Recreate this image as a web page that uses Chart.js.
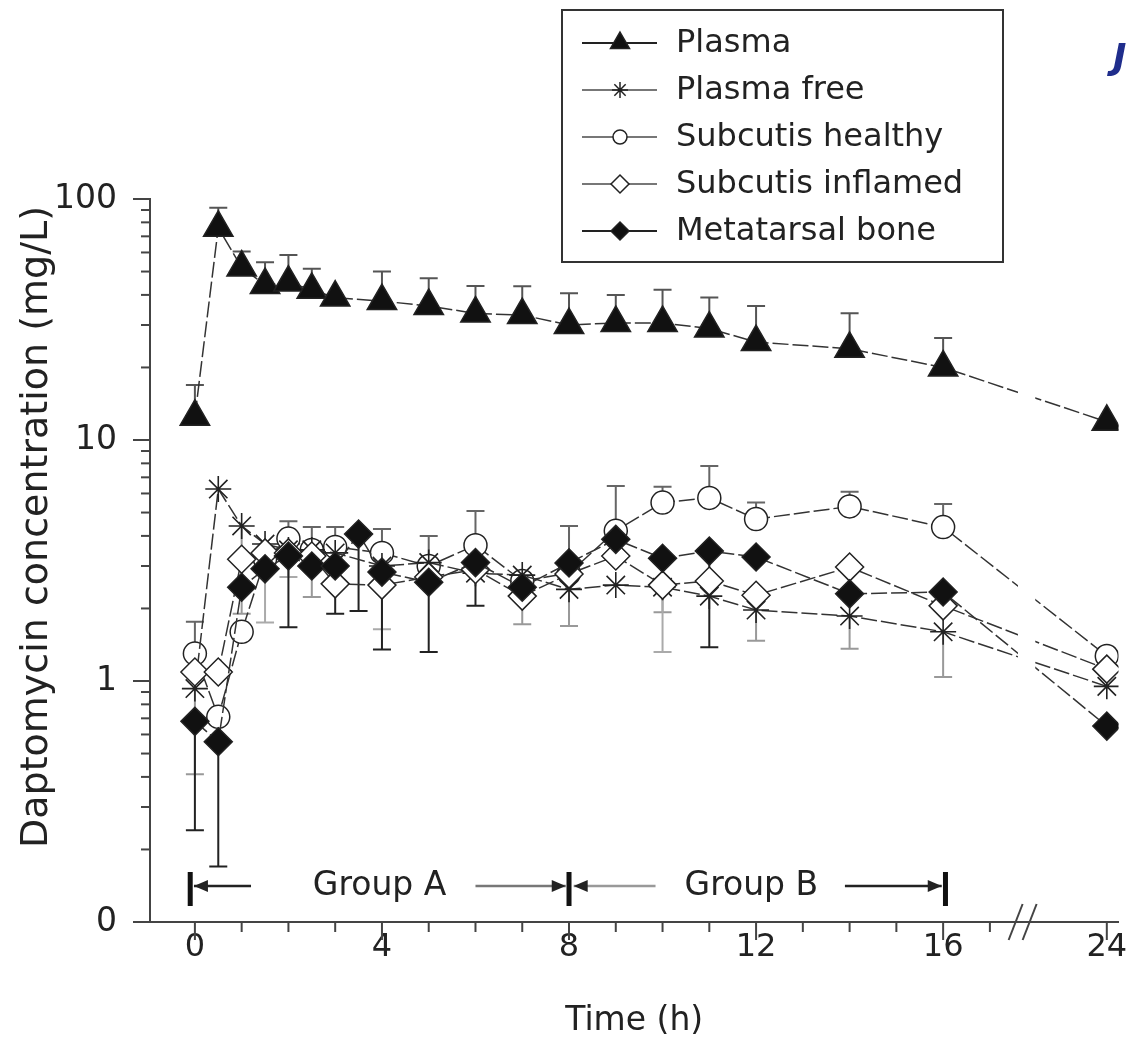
<!DOCTYPE html>
<html>
<head>
<meta charset="utf-8">
<script src="https://cdn.jsdelivr.net/npm/chart.js@4.4.0/dist/chart.umd.min.js"></script>
<style>
  html, body { margin: 0; padding: 0; background: #fff; }
  #wrap { width: 1137px; height: 1043px; position: relative; }
</style>
</head>
<body>
<div id="wrap"><canvas id="chart"></canvas></div>
<script>
// sampling times (h); 24 h sits after an axis break
const times = [0, 0.5, 1, 1.5, 2, 2.5, 3, 3.5, 4, 5, 6, 7, 8, 9, 10, 11, 12, 14, 16, 24];

const plasma     = [12.5, 76, 52, 44, 45, 42, 39, null, 37.7, 36, 33.5, 33, 30, 30.6, 30.6, 29, 25.5, 23.9, 20, 11.9];
const plasmaHi   = [16.9, 92, 60.6, 54.6, 58.5, 51.4, null, null, 50, 46.9, 43.5, 43.4, 40.6, 40, 42, 39, 36, 33.6, 26.5, null];
const plasmaFree = [0.93, 6.26, 4.4, 3.7, 3.5, 3.5, 3.4, null, 3.0, 3.1, 2.8, 2.75, 2.4, 2.5, 2.45, 2.25, 1.97, 1.86, 1.6, 0.95];
const freeLo     = [0.41, null, 1.9, null, null, 2.23, null, null, null, null, null, 1.72, 1.69, null, 1.93, null, 1.47, 1.36, 1.04, null];
const healthy    = [1.3, 0.71, 1.6, 3.2, 3.9, 3.5, 3.6, null, 3.4, 3.0, 3.66, 2.6, 2.8, 4.2, 5.5, 5.75, 4.7, 5.3, 4.35, 1.27];
const healthyHi  = [1.76, null, null, null, 4.6, 4.35, 4.35, null, 4.27, 4.0, 5.07, null, 4.4, 6.45, 6.4, 7.8, 5.5, 6.1, 5.43, null];
const inflamed   = [1.09, 1.09, 3.2, 3.4, 3.4, 3.3, 2.53, null, 2.5, 2.7, 2.9, 2.25, 2.78, 3.3, 2.5, 2.6, 2.27, 2.97, 2.05, 1.12];
const inflamedLo = [null, null, null, 1.75, 2.7, null, null, null, 1.64, null, null, null, null, null, 1.32, null, null, null, null, null];
const bone       = [0.68, 0.56, 2.45, 2.92, 3.3, 3.0, 3.0, 4.07, 2.83, 2.57, 3.1, 2.45, 3.09, 3.87, 3.23, 3.46, 3.27, 2.3, 2.34, 0.65];
const boneLo     = [0.24, 0.17, null, null, 1.67, null, 1.9, 1.95, 1.35, 1.32, 2.05, null, null, null, null, 1.38, null, null, null, null];

const xTicks = [0, 4, 8, 12, 16, 19.5];
const xTickLabels = ['0', '4', '8', '12', '16', '24'];
const yTicks = [0.1, 1, 10, 100];
const yTickLabels = ['0', '1', '10', '100'];

const FONT = 'DejaVu Sans';
const INK = '#222';

// 24 h is drawn at 19.5 on the axis because of the break
const axisX = t => (t === 24 ? 19.5 : t);
const pts = arr => times.map((t, i) => ({ x: axisX(t), y: arr[i] }));

function series(label, values, style, radius, fill, order, errHi, errLo, errColor) {
    return {
        label: label,
        data: pts(values),
        pointStyle: style,
        pointRadius: radius,
        pointHoverRadius: radius,
        pointBackgroundColor: fill,
        pointBorderColor: INK,
        pointBorderWidth: style === 'star' ? 1.6 : 1.5,
        borderColor: '#333',
        borderWidth: 1.5,
        borderDash: [16, 4],
        fill: false,
        spanGaps: true,
        order: order,
        errHi: errHi,
        errLo: errLo,
        errColor: errColor
    };
}

function marker(ctx, style, x, y, r, fill) {
    ctx.beginPath();
    if (style === 'triangle') {
        ctx.moveTo(x, y - r);
        ctx.lineTo(x + r * 0.866, y + r / 2);
        ctx.lineTo(x - r * 0.866, y + r / 2);
        ctx.closePath();
    } else if (style === 'circle') {
        ctx.arc(x, y, r, 0, Math.PI * 2);
    } else if (style === 'rectRot') {
        ctx.moveTo(x - r, y);
        ctx.lineTo(x, y - r);
        ctx.lineTo(x + r, y);
        ctx.lineTo(x, y + r);
        ctx.closePath();
    } else if (style === 'star') {
        for (let k = 0; k < 4; k++) {
            const a = k * Math.PI / 4;
            ctx.moveTo(x - Math.cos(a) * r, y - Math.sin(a) * r);
            ctx.lineTo(x + Math.cos(a) * r, y + Math.sin(a) * r);
        }
    }
    if (style !== 'star') {
        ctx.fillStyle = fill;
        ctx.fill();
    }
    ctx.stroke();
}

function arrow(ctx, x1, x2, y, color, headLeft) {
    ctx.strokeStyle = color;
    ctx.lineWidth = 2.5;
    ctx.beginPath();
    ctx.moveTo(x1, y);
    ctx.lineTo(x2, y);
    ctx.stroke();
    const hx = headLeft ? x1 : x2;
    const d = headLeft ? 1 : -1;
    ctx.fillStyle = INK;
    ctx.beginPath();
    ctx.moveTo(hx, y);
    ctx.lineTo(hx + d * 14, y - 6);
    ctx.lineTo(hx + d * 14, y + 6);
    ctx.closePath();
    ctx.fill();
}

const decor = {
    id: 'decor',
    beforeDatasetsDraw(chart) {
        const ctx = chart.ctx;
        const ys = chart.scales.y;
        ctx.save();
        chart.data.datasets.forEach((ds, i) => {
            const meta = chart.getDatasetMeta(i);
            ctx.strokeStyle = ds.errColor;
            ctx.lineWidth = 2;
            [ds.errHi, ds.errLo].forEach(arr => {
                if (!arr) return;
                arr.forEach((v, j) => {
                    if (v == null || ds.data[j].y == null) return;
                    const p = meta.data[j];
                    const y1 = ys.getPixelForValue(v);
                    ctx.beginPath();
                    ctx.moveTo(p.x, p.y);
                    ctx.lineTo(p.x, y1);
                    ctx.moveTo(p.x - 9, y1);
                    ctx.lineTo(p.x + 9, y1);
                    ctx.stroke();
                });
            });
        });
        ctx.restore();
    },
    afterDraw(chart) {
        const ctx = chart.ctx;
        const xs = chart.scales.x;
        const ys = chart.scales.y;
        const area = chart.chartArea;
        ctx.save();

        // gap in the connecting lines at the axis break
        ctx.fillStyle = '#ffffff';
        const g1 = xs.getPixelForValue(17.6), g2 = xs.getPixelForValue(17.97);
        ctx.fillRect(g1, area.top + 20, g2 - g1, area.bottom - area.top - 60);

        ctx.strokeStyle = '#444';
        ctx.lineWidth = 2;

        // x tick marks, one per hour up to 17, plus 24
        for (let t = 0; t <= 17; t++) {
            const px = xs.getPixelForValue(t);
            ctx.beginPath();
            ctx.moveTo(px, area.bottom);
            ctx.lineTo(px, area.bottom + (t % 4 === 0 ? 18 : 10));
            ctx.stroke();
        }
        const p24 = xs.getPixelForValue(19.5);
        ctx.beginPath();
        ctx.moveTo(p24, area.bottom);
        ctx.lineTo(p24, area.bottom + 18);
        ctx.stroke();

        // axis break marks
        const bx = xs.getPixelForValue(17.55);
        [0, 14].forEach(off => {
            ctx.beginPath();
            ctx.moveTo(bx + off - 7, area.bottom + 18);
            ctx.lineTo(bx + off + 7, area.bottom - 18);
            ctx.stroke();
        });

        // log y tick marks
        for (let k = -1; k <= 1; k++) {
            for (let m = 1; m <= 9; m++) {
                const py = ys.getPixelForValue(m * Math.pow(10, k));
                ctx.beginPath();
                ctx.moveTo(area.left, py);
                ctx.lineTo(area.left - (m === 1 ? 17 : 9), py);
                ctx.stroke();
            }
        }
        const p100 = ys.getPixelForValue(100);
        ctx.beginPath();
        ctx.moveTo(area.left, p100);
        ctx.lineTo(area.left - 17, p100);
        ctx.stroke();

        // group A / group B annotation
        const gy = area.bottom - 36;
        ctx.fillStyle = '#111';
        [-0.1, 8, 16.05].forEach(t => {
            ctx.fillRect(xs.getPixelForValue(t) - 2.5, gy - 14, 5, 34);
        });
        arrow(ctx, xs.getPixelForValue(-0.02), xs.getPixelForValue(1.2), gy, '#222', true);
        arrow(ctx, xs.getPixelForValue(6.0), xs.getPixelForValue(7.93), gy, '#777', false);
        arrow(ctx, xs.getPixelForValue(8.1), xs.getPixelForValue(9.85), gy, '#999', true);
        arrow(ctx, xs.getPixelForValue(13.9), xs.getPixelForValue(15.97), gy, '#222', false);
        ctx.fillStyle = INK;
        ctx.font = `33px "${FONT}"`;
        ctx.textAlign = 'center';
        ctx.textBaseline = 'middle';
        ctx.fillText('Group A', xs.getPixelForValue(3.95), gy);
        ctx.fillText('Group B', xs.getPixelForValue(11.9), gy);

        // y axis title
        ctx.save();
        ctx.translate(37, 527);
        ctx.rotate(-Math.PI / 2);
        ctx.font = `38px "${FONT}"`;
        ctx.fillText('Daptomycin concentration (mg/L)', 0, 0);
        ctx.restore();

        // legend box
        ctx.strokeStyle = '#333';
        ctx.lineWidth = 2;
        ctx.strokeRect(562, 10, 441, 252);
        const legendMarks = [
            ['triangle', 11, '#111'],
            ['star', 8, '#fff'],
            ['circle', 7, '#fff'],
            ['rectRot', 9, '#fff'],
            ['rectRot', 9, '#111']
        ];
        chart.data.datasets.forEach((ds, i) => {
            const ly = 43 + i * 47;
            ctx.strokeStyle = i === 0 || i === 4 ? '#222' : '#777';
            ctx.lineWidth = 2;
            ctx.beginPath();
            ctx.moveTo(582, ly);
            ctx.lineTo(657, ly);
            ctx.stroke();
            ctx.strokeStyle = INK;
            ctx.lineWidth = 1.5;
            const m = legendMarks[i];
            marker(ctx, m[0], 620, ly, m[1], m[2]);
            ctx.fillStyle = INK;
            ctx.font = `32px "${FONT}"`;
            ctx.textAlign = 'left';
            ctx.textBaseline = 'middle';
            ctx.fillText(ds.label, 676, ly + 1);
        });

        // journal mark cut at the corner
        ctx.fillStyle = '#1f2d8c';
        ctx.font = `italic bold 36px "${FONT}"`;
        ctx.textAlign = 'left';
        ctx.fillText('J', 1113, 60);
        ctx.restore();
    }
};

const ctx = document.getElementById('chart').getContext('2d');
new Chart(ctx, {
    type: 'line',
    data: {
        datasets: [
            series('Plasma', plasma, 'triangle', 17, '#111', 1, plasmaHi, null, '#555'),
            series('Plasma free', plasmaFree, 'star', 13, '#fff', 3, null, freeLo, '#999'),
            series('Subcutis healthy', healthy, 'circle', 11.5, '#fff', 4, healthyHi, null, '#666'),
            series('Subcutis inflamed', inflamed, 'rectRot', 14, '#fff', 2, null, inflamedLo, '#aaa'),
            series('Metatarsal bone', bone, 'rectRot', 14, '#111', 0, null, boneLo, '#222')
        ]
    },
    options: {
        responsive: true,
        maintainAspectRatio: false,
        animation: false,
        layout: { padding: { top: 199, right: 4, left: 0, bottom: 0 } },
        plugins: {
            legend: { display: false },
            tooltip: { enabled: false }
        },
        scales: {
            x: {
                type: 'linear',
                min: -0.96,
                max: 19.75,
                afterBuildTicks: s => { s.ticks = xTicks.map(v => ({ value: v })); },
                afterFit: s => { s.height = 121; s.paddingLeft = 0; s.paddingRight = 0; },
                grid: { display: false },
                border: { display: true, color: '#444', width: 2 },
                ticks: {
                    autoSkip: false,
                    maxRotation: 0,
                    padding: -2,
                    color: INK,
                    font: { family: FONT, size: 32 },
                    callback: (v, i) => xTickLabels[i]
                },
                title: {
                    display: true,
                    text: 'Time (h)',
                    color: INK,
                    font: { family: FONT, size: 33 },
                    padding: { top: 0, bottom: 2 }
                }
            },
            y: {
                type: 'logarithmic',
                min: 0.1,
                max: 100,
                afterBuildTicks: s => { s.ticks = yTicks.map(v => ({ value: v })); },
                afterFit: s => { s.width = 150; },
                grid: { display: false },
                border: { display: true, color: '#444', width: 2 },
                ticks: {
                    autoSkip: false,
                    padding: 25,
                    color: INK,
                    font: { family: FONT, size: 33 },
                    callback: (v, i) => yTickLabels[i]
                }
            }
        }
    },
    plugins: [decor]
});
</script>
</body>
</html>
